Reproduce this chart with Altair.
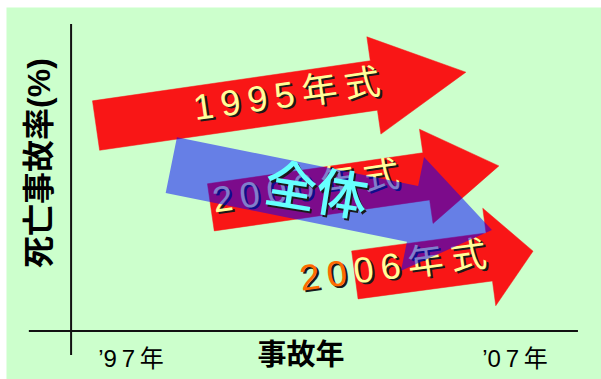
import math
import altair as alt
import pandas as pd

# ---------------- data (years on x, death-accident rate in arbitrary % units on y)
x_domain = [1993.745, 2009.240]
y_domain = [-12.5, 84.375]

arrow_names = ["1995年式", "2000年式", "2006年式", "全体"]
tail_year = [1996.09, 1999.08, 2002.83, 1998.05]
tail_rate = [53.5, 32.2, 14.6, 43.2]
tip_year = [2005.72, 2006.58, 2007.47, 2006.40]
tip_rate = [67.4, 43.0, 20.8, 26.3]
body_half = [6.5, 6.2, 6.3, 7.4]
head_half = [12.8, 12.4, 12.8, 15.1]
head_len = [24.2, 19.1, 11.5, 21.1]

# labels on the arrows
label_text = ["1995年式", "2000年式"]
label_year = [2001.06, 2001.56]
label_rate = [61.2, 37.2]
label_angle = [351.8, 351.8]

label2006_parts = ["20", "06年式"]
label2006_year = [2001.40]
label2006_rate = [13.3]
label2006_angle = [352.3]

whole_text = ["全体"]
whole_year = [2001.82]
whole_rate = [35.9]
whole_angle = [9]

tick_labels = ["’97年", "’07年"]
tick_years = [1997, 2007]
tick_rate = [-7.55, -7.55]

x_title = ["事故年"]
x_title_pos = [2001.43, -6.5]
y_title = ["死亡事故率(%)"]
y_title_pos = [1994.63, 43.75]

axis_x = [1995.44, 1994.34]
axis_x2 = [1995.44, 2008.64]
axis_y = [79.95, 0.0]
axis_y2 = [-6.25, 0.0]

RED = "#F91616"
BLUE = "#0000FF"
YELLOW = "#FFFF99"
ORANGE = "#FF6A00"
CYAN = "#66FFFF"
SHADOW = "#1a1a1a"
FONT = "Liberation Sans, Noto Sans CJK JP"
K = 10.0  # rate units per year that make the geometry isotropic
THIN = "\u2009"
LABEL_FS = 36


def arrow_poly(name, x0, y0, x1, y1, bh, hh, hl):
    X0, X1 = x0 * K, x1 * K
    dx, dy = X1 - X0, y1 - y0
    L = math.hypot(dx, dy)
    ux, uy = dx / L, dy / L
    nx, ny = -uy, ux
    bx, by = X1 - ux * hl, y1 - uy * hl
    pts = [
        (X0 + nx * bh, y0 + ny * bh),
        (bx + nx * bh, by + ny * bh),
        (bx + nx * hh, by + ny * hh),
        (X1, y1),
        (bx - nx * hh, by - ny * hh),
        (bx - nx * bh, by - ny * bh),
        (X0 - nx * bh, y0 - ny * bh),
    ]
    return [{"arrow": name, "i": i, "x": px / K, "y": py} for i, (px, py) in enumerate(pts)]


rows = []
for j in range(len(arrow_names)):
    rows += arrow_poly(arrow_names[j], tail_year[j], tail_rate[j], tip_year[j], tip_rate[j],
                       body_half[j], head_half[j], head_len[j])
poly = pd.DataFrame(rows)

xs = alt.Scale(domain=x_domain, nice=False, zero=False)
ys = alt.Scale(domain=y_domain, nice=False, zero=False)
X = lambda f="x": alt.X(f"{f}:Q", scale=xs, axis=None)
Y = lambda f="y": alt.Y(f"{f}:Q", scale=ys, axis=None)

red = alt.Chart(poly[poly.arrow != "全体"]).mark_line(
    interpolate="linear-closed", fill=RED, stroke=RED, strokeWidth=0.5
).encode(x=X(), y=Y(), detail="arrow:N", order="i:Q")

blue = alt.Chart(poly[poly.arrow == "全体"]).mark_line(
    interpolate="linear-closed", fill=BLUE, fillOpacity=0.5, stroke=BLUE, strokeOpacity=0
).encode(x=X(), y=Y(), detail="arrow:N", order="i:Q")


def spaced(s):
    return THIN.join(list(s))


def spaced_tick(s):
    # keep the apostrophe tight against the year digits
    return s[0] + spaced(s[1:])


def text_layer(df, color, size, align="center", weight="normal", shadow=True, font=FONT, dx=0):
    layers = []
    enc = dict(x=X(), y=Y(), text="t:N", angle=alt.Angle("a:Q", scale=None))
    if shadow:
        layers.append(alt.Chart(df).mark_text(
            align=align, baseline="middle", font=font, fontSize=size, fontWeight=weight,
            color=SHADOW, dx=dx + 2, dy=2).encode(**enc))
    layers.append(alt.Chart(df).mark_text(
        align=align, baseline="middle", font=font, fontSize=size, fontWeight=weight,
        color=color, dx=dx).encode(**enc))
    return layers


lab_df = pd.DataFrame({"x": label_year, "y": label_rate,
                       "t": [spaced(s) for s in label_text], "a": label_angle})
# the yellow part starts after "2 0 " (two Liberation Sans digits + two thin spaces)
split_dx = LABEL_FS * (2 * 0.556 + 2 * 0.2)
l06a = pd.DataFrame({"x": label2006_year, "y": label2006_rate,
                     "t": [spaced(label2006_parts[0])], "a": label2006_angle})
l06b = pd.DataFrame({"x": label2006_year, "y": label2006_rate,
                     "t": [spaced(label2006_parts[1])], "a": label2006_angle})
whole_df = pd.DataFrame({"x": whole_year, "y": whole_rate, "t": whole_text, "a": whole_angle})

tick_df = pd.DataFrame({"x": tick_years, "y": tick_rate,
                        "t": [spaced_tick(s) for s in tick_labels], "a": [0, 0]})
xt_df = pd.DataFrame({"x": [x_title_pos[0]], "y": [x_title_pos[1]], "t": x_title, "a": [0]})
yt_df = pd.DataFrame({"x": [y_title_pos[0]], "y": [y_title_pos[1]], "t": y_title, "a": [270]})

axes_df = pd.DataFrame({"x": axis_x, "x2": axis_x2, "y": axis_y, "y2": axis_y2})
axes = alt.Chart(axes_df).mark_rule(color="#111111", strokeWidth=2).encode(
    x=X(), x2="x2:Q", y=Y(), y2="y2:Q")

layers = [red]
layers += text_layer(lab_df, YELLOW, LABEL_FS)
layers += text_layer(l06a, ORANGE, LABEL_FS, align="left")
layers += text_layer(l06b, YELLOW, LABEL_FS, align="left", dx=split_dx)
layers += [blue]
layers += text_layer(whole_df, CYAN, 52, weight=500)
layers += [axes]
layers += text_layer(tick_df, "#000000", 24, shadow=False)
layers += text_layer(xt_df, "#000000", 29, weight="bold", shadow=False, font="Noto Sans CJK JP")
layers += text_layer(yt_df, "#000000", 32, weight="bold", shadow=False,
                     font="Liberation Sans, Noto Sans CJK JP")

chart = alt.layer(*layers).properties(
    width=595, height=372, autosize="none",
    padding={"left": 6, "top": 7, "right": 0, "bottom": 0},
    background="white",
).configure_view(fill="#CCFFCC", stroke="transparent")

chart.save("out.html", embed_options={"renderer": "svg", "actions": False})
